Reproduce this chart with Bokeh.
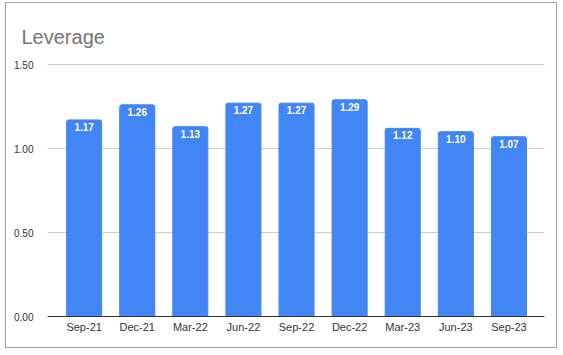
from bokeh.plotting import figure
from bokeh.models import ColumnDataSource, FixedTicker, LabelSet, Range1d, NumeralTickFormatter
from bokeh.embed import file_html
from bokeh.resources import INLINE
from bokeh.core.properties import value

categories = ["Sep-21", "Dec-21", "Mar-22", "Jun-22", "Sep-22", "Dec-22", "Mar-23", "Jun-23", "Sep-23"]
leverage = [1.17, 1.26, 1.13, 1.27, 1.27, 1.29, 1.12, 1.10, 1.07]
y_ticks = [0.0, 0.5, 1.0, 1.5]

idx = list(range(len(categories)))
src = ColumnDataSource(dict(x=idx, y=leverage, lab=[f"{v:.2f}" for v in leverage]))

p = figure(width=552, height=346, output_backend="svg", toolbar_location=None,
           x_range=Range1d(-0.69, 8.67), y_range=Range1d(0, 1.506),
           min_border_left=41, min_border_right=14, min_border_top=60, min_border_bottom=33,
           title="Leverage")
p.margin = (2, 0, 0, 5)
p.styles = {"border": "1px solid #9e9e9e"}
p.outline_line_color = None
p.background_fill_color = "white"
p.border_fill_color = "white"

p.title.text_font = "Liberation Sans"
p.title.text_font_size = "20px"
p.title.text_font_style = "normal"
p.title.text_color = "#757575"
p.title.align = "left"
p.title.offset = -26
p.title.standoff = 31

p.vbar(x="x", top="y", width=0.66, bottom=0, source=src, color="#4285F4", border_radius=(2, 2, 0, 0))

labels = LabelSet(x="x", y="y", text="lab", source=src, text_align="center", text_baseline="top",
                  y_offset=-3, text_color="white", text_font_size="10px", text_font_style="bold",
                  text_font=value("Liberation Sans"))
p.add_layout(labels)

p.xaxis.ticker = FixedTicker(ticks=idx)
p.xaxis.major_label_overrides = {i: c for i, c in enumerate(categories)}
p.xaxis.major_tick_line_color = None
p.xaxis.minor_tick_line_color = None
p.xaxis.axis_line_color = "#333333"
p.xaxis.major_label_text_font = "Liberation Sans"
p.xaxis.major_label_text_font_size = "11px"
p.xaxis.major_label_text_color = "#333333"
p.xaxis.major_label_standoff = -2

p.yaxis.ticker = FixedTicker(ticks=y_ticks)
p.yaxis.formatter = NumeralTickFormatter(format="0.00")
p.yaxis.major_tick_line_color = None
p.yaxis.minor_tick_line_color = None
p.yaxis.axis_line_color = None
p.yaxis.major_label_text_font = "Liberation Sans"
p.yaxis.major_label_text_font_size = "10px"
p.yaxis.major_label_text_color = "#333333"
p.yaxis.major_label_standoff = 8

p.xgrid.grid_line_color = None
p.ygrid.grid_line_color = "#cccccc"
p.ygrid.ticker = FixedTicker(ticks=y_ticks)

open("out.html", "w").write(file_html(p, INLINE))
